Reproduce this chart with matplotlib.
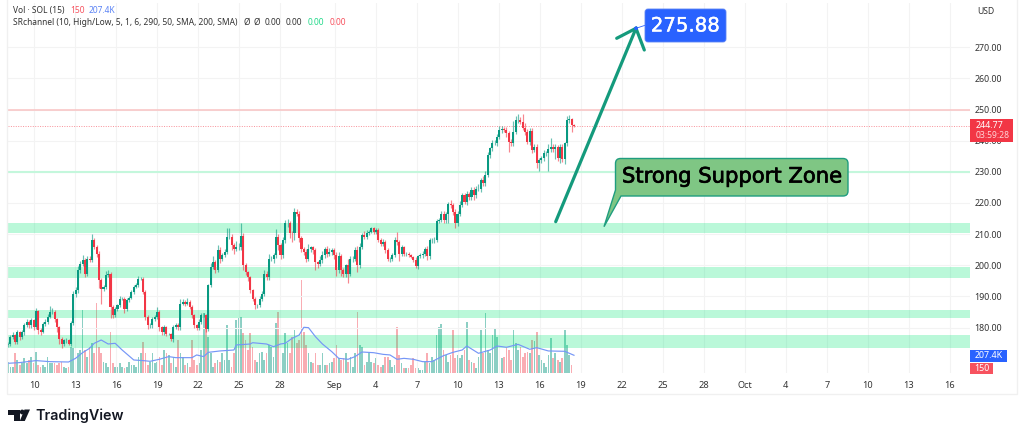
import numpy as np
import matplotlib
matplotlib.use("Agg")
import matplotlib.pyplot as plt
from matplotlib.patches import PathPatch, Rectangle, FancyBboxPatch, Polygon, Circle
from matplotlib.path import Path
import matplotlib.patheffects as pe

plt.rcParams['font.family'] = ['Noto Sans', 'DejaVu Sans']

closes = [
174.8,176.9,177.7,175.3,178.5,176.9,178.5,180.7,181.8,180.7,182.3,180.1,185.3,179.1,178.5,181.2,181.8,183.4,185.0,185.0,
182.8,180.1,176.4,174.8,175.9,176.1,174.8,181.4,190.9,191.9,198.4,200.3,201.6,197.3,202.1,201.6,208.2,205.9,203.7,195.2,
192.5,193.0,196.8,197.3,186.6,183.9,186.0,187.1,189.3,189.3,186.0,188.7,189.6,191.4,193.0,193.5,195.7,195.7,191.4,183.4,
180.7,180.7,182.8,183.4,185.0,180.1,178.5,180.1,178.0,178.0,176.2,180.1,180.7,180.1,187.7,188.2,187.7,188.2,186.6,183.9,
180.7,179.9,181.8,183.9,183.9,179.6,193.5,199.4,201.1,198.4,205.0,202.1,203.2,204.3,209.1,209.1,206.4,205.3,205.7,205.7,
209.4,200.0,197.8,196.2,191.9,189.3,187.1,187.1,189.3,190.9,197.3,196.2,202.1,202.1,203.2,209.1,206.4,203.2,208.0,213.4,
213.4,210.4,210.2,217.1,216.6,208.6,
205.3,204.3,202.1,205.3,205.7,204.8,201.1,200.3,201.8,203.2,205.3,203.7,204.3,204.8,203.2,198.4,202.9,198.4,197.3,200.0,
197.3,201.9,202.1,204.8,200.0,205.9,209.6,209.1,210.4,210.7,211.8,210.7,211.2,208.2,206.9,207.5,204.8,202.1,202.1,203.2,
208.0,207.5,203.7,205.7,203.7,203.7,203.2,202.7,201.6,199.7,202.9,203.2,203.7,205.3,202.9,208.0,208.0,208.0,214.2,214.5,
216.4,214.5,216.4,219.6,219.3,217.1,213.4,216.6,219.3,222.5,220.3,223.0,
221.8,224.1,222.5,224.6,224.6,227.3,226.3,228.9,235.4,237.5,239.3,239.3,241.3,243.4,243.6,243.4,242.3,239.7,239.1,242.9,
246.6,246.6,246.1,244.0,242.9,239.7,243.2,237.0,238.0,232.9,233.8,234.3,235.9,235.9,237.2,238.0,237.2,238.0,234.3,238.0,
234.1,239.1,246.6,246.8,245.0,244.77]

upper_wicks = [
.4,.6,.8,.3,.8,.5,.7,.9,1.0,.6,
.8,.5,1.1,.4,.6,.7,.9,.8,2.0,1.2,
.5,.4,.4,.6,.5,.6,.3,.8,.7,1.0,
1.2,1.0,1.6,.8,.9,.8,1.9,.7,.6,.8,
.7,.8,1.2,1.1,.5,.6,.5,.6,.7,.6,
.5,.7,.6,.8,.7,.9,1.0,.6,.4,.5,
.5,.6,.7,.6,1.6,.5,.4,.7,.5,.4,
.4,.6,.7,.8,1.3,.8,.5,1.4,.6,.5,
.4,.5,.8,.9,.7,.5,.6,1.2,1.8,.7,
1.4,.8,.7,.9,2.7,2.7,.9,.8,2.0,1.5,
4.3,.8,.6,.5,.4,.6,.4,.3,.7,.8,
1.3,.7,1.5,.9,.8,2.5,.9,.6,1.2,1.0,
1.6,.8,.7,1.3,.8,.9,.7,.4,.8,1.4,
.6,.5,.7,.4,1.1,1.3,.7,.8,1.2,.6,
.7,.9,1.5,.8,.7,.5,2.0,1.0,.8,.9,
1.4,1.1,.9,1.5,.8,.7,.6,.6,.8,.7,
.5,1.0,.7,.6,.5,.8,1.0,2.7,.6,.9,
.5,.5,.4,.4,.3,.9,.5,.7,1.0,.6,
1.0,.9,.8,1.2,.8,.7,.9,1.0,.8,.6,
1.5,.7,.8,.9,1.2,.8,.6,.8,.6,1.0,
.9,.7,1.6,.7,1.2,1.4,.8,.6,.8,1.0,
.7,1.3,1.2,.7,.9,.8,.9,3.4,1.2,1.8,
.9,2.5,1.8,1.0,.8,1.0,.9,.8,.6,.7,
1.0,.9,1.7,3.0,.8,1.0,.7,.9,.8,.6,
1.4,1.5,.5,.3]

lower_wicks = [
.7,.6,.5,.5,.5,.8,.5,.9,.6,.7,
.8,1.0,.6,1.1,.8,.4,.8,.8,.5,.6,
.9,1.4,1.6,1.3,.6,.8,.5,.8,.5,1.2,
.9,.8,.7,1.0,.7,.6,.5,.8,.9,2.6,
5.0,.8,.7,.6,3.7,.7,.5,.7,.6,.5,
1.2,.6,.5,.6,.5,.4,.6,.5,.7,.9,
1.1,.7,.8,.6,.6,1.2,.8,.9,.7,.5,
.4,.7,.5,.8,.9,.6,.7,.6,.5,.7,
1.0,.7,.8,.6,.5,1.0,.8,.5,.5,.8,
.6,1.3,.7,.5,.8,.7,1.5,1.6,.8,.9,
.8,1.5,.9,1.2,.7,.9,1.2,.7,.6,.8,
.7,1.0,.8,.7,1.5,1.0,1.5,1.2,.9,.8,
1.0,1.5,2.7,2.0,.8,1.0,.9,1.1,1.0,.8,
.9,1.2,2.5,1.3,.7,1.0,.8,.9,.6,1.0,
1.3,2.0,1.0,1.9,1.0,1.2,3.0,.8,.9,.7,
2.2,1.0,.7,.8,.6,.7,.5,.7,.8,.9,
.8,.7,1.0,.9,1.2,.8,.7,.9,2.2,.7,
.8,.6,.5,.5,.5,.7,.8,.6,.9,.7,
1.3,.9,.8,.8,.6,.5,.7,.8,.9,3.0,
.8,.9,1.5,.7,.8,.6,.7,.8,1.0,.9,
1.4,.8,.7,1.0,.9,.7,.6,.9,.8,.7,
1.0,.9,.8,.7,1.0,3.4,.9,.8,.7,.8,
.9,.7,1.0,.8,1.0,1.1,.7,1.6,2.6,1.0,
.9,.8,5.5,.7,1.0,3.0,.8,1.4,.9,1.6,
.7,.8,2.1,.4]

volumes_k = [
134,77,77,230,153,96,115,172,115,153,192,115,249,96,77,96,77,192,115,115,
115,96,115,134,77,57,77,306,287,306,230,268,728,268,192,306,345,230,804,306,
230,134,115,77,479,115,77,77,115,77,57,77,134,96,96,77,192,230,364,230,
96,134,230,115,134,192,96,268,230,211,115,192,77,383,230,192,96,115,77,383,
153,96,115,268,689,575,421,230,77,115,153,134,230,153,555,153,77,230,613,632,
651,460,383,268,460,306,153,134,230,249,153,230,326,306,192,575,709,230,230,460,
345,230,421,498,345,383,
1072,479,326,230,134,115,230,96,96,230,96,96,115,134,172,326,172,153,172,230,
134,192,77,230,709,326,306,96,134,230,134,115,172,96,77,96,192,192,153,77,
96,536,211,115,57,57,57,96,172,57,57,38,38,134,230,115,192,153,440,536,
567,268,211,134,211,498,172,211,172,211,268,594,153,134,115,57,192,498,230,689,
268,230,440,517,421,268,172,192,287,268,153,498,345,268,306,192,230,249,230,383,
375,479,211,153,115,77,211,402,172,230,153,134,172,498,326,211,96,0.15]

ma_index = [0,5,12,18,26,29,32,35,37,40,43,46,49,54,58,61,65,69,72,79,81,84,86,91,97,98,104,105,111,114,117,119,122,125,
            127,129,132,135,139,142,146,149,152,157,161,164,167,170,174,178,182,187,191,195,197,202,207,210,214,219,224,227,232,239,243]
ma_values = [115,123,146,134,130,172,237,287,345,383,337,345,268,153,146,138,161,192,180,180,211,192,241,257,268,326,337,352,337,306,337,345,402,440,
             529,525,421,337,249,172,161,192,245,237,218,211,161,172,161,134,134,203,241,268,314,230,268,314,299,333,276,295,257,253,207.4]

price_ticks = [180,190,200,210,220,230,240,250,260,270]
day_ticks = [10,13,16,19,22,25,28,32,35,38,41,44,47,50,53,56,59,62,65,68,71,74,77]
day_labels = ['10','13','16','19','22','25','28','Sep','4','7','10','13','16','19','22','25','28','Oct','4','7','10','13','16']
support_zones = [(210.3,213.7),(196.0,199.3),(183.0,185.5),(173.4,177.5)]
thin_support = 230.0
resistance = 250.0
last_price = 244.77
first_day, last_day = 8.1, 49.5
x_range = (8.098, 78.47)
price_range = (165.3, 284.2)
UP, DOWN = '#089981', '#f23645'

n = min(len(closes), len(upper_wicks), len(lower_wicks), len(volumes_k))
c = np.array(closes[:n])
o = np.r_[c[0] - 0.5, c[:-1]]
hi = np.maximum(o, c) + np.array(upper_wicks[:n])
lo = np.minimum(o, c) - np.array(lower_wicks[:n])
v = np.array(volumes_k[:n])
x = np.linspace(first_day, last_day, n)
up = c >= o
W, H = 1024, 437
fig = plt.figure(figsize=(W/100, H/100), dpi=100, facecolor='white')
pos = [8/W, 1-373.3/H, (970-8)/W, (373.3-3)/H]

ax_vol = fig.add_axes(pos, zorder=1)
ax_vol.set_ylim(0, 370.3*11.5)
ax_vol.set_xlim(*x_range)
ax_vol.axis('off')
ax_vol.bar(x[up], v[up], width=0.125, color='#8ccfc4', linewidth=0)
ax_vol.bar(x[~up], v[~up], width=0.125, color='#f9adb3', linewidth=0)

ax = fig.add_axes(pos, zorder=2, sharex=ax_vol)
ax.patch.set_alpha(0)
ax.set_ylim(*price_range)
for s in ax.spines.values():
    s.set_visible(False)
ax.yaxis.tick_right()
ax.set_yticks(price_ticks)
ax.set_yticklabels([f'{p:.2f}' for p in price_ticks], fontsize=6.4, color='#333333')
ax.set_xticks(day_ticks)
ax.set_xticklabels(day_labels, fontsize=6.6, color='#333333')
ax.tick_params(axis='y', length=0, pad=3.4)
ax.tick_params(axis='x', length=0, pad=5.5)
for t in ax.get_xticklabels():
    if t.get_text() in ('Sep', 'Oct'):
        t.set_fontweight('bold')
ax.set_axisbelow(True)
ax.grid(True, color='#f3f3f3', lw=0.8)

for a, b in support_zones:
    ax.axhspan(a, b, color='#00e676', alpha=0.27, lw=0, zorder=1)
ax.axhline(thin_support, color='#c4f7dc', lw=1.5, zorder=1)
ax.axhline(resistance, color='#f9c3c3', lw=1.1, zorder=1)
ax.axhline(last_price, color='#f23645', lw=0.7, ls=(0, (1, 1.5)), alpha=0.55, zorder=1.5)

ax.vlines(x[up], lo[up], hi[up], color=UP, lw=0.85, alpha=0.6, zorder=2)
ax.vlines(x[~up], lo[~up], hi[~up], color=DOWN, lw=0.85, alpha=0.6, zorder=2)
ax.bar(x[up], (c-o)[up], bottom=o[up], width=0.15, color=UP, lw=0, zorder=3)
ax.bar(x[~up], (o-c)[~up], bottom=c[~up], width=0.15, color=DOWN, lw=0, zorder=3)

ax_ma = fig.add_axes(pos, zorder=3, sharex=ax_vol, sharey=ax_vol)
ax_ma.axis('off')
ax_ma.patch.set_alpha(0)
ax_ma.plot(x[np.array(ma_index)], ma_values, color='#7596f7', lw=0.85)

# overlay in pixel units for the drawn annotations and labels
ov = fig.add_axes([0, 0, 1, 1], zorder=5)
ov.set_xlim(0, W); ov.set_ylim(H, 0); ov.axis('off'); ov.patch.set_alpha(0)
ov.add_patch(Rectangle((7, -2), 1010, 396, fill=False, ec='#f0f0f0', lw=1))

# arrow
ARROW = '#149a7c'
ov.plot([555.7, 636], [221.7, 28.3], color=ARROW, lw=2.3, solid_capstyle='round')
ov.plot([616.7, 636, 644.3], [38.3, 28.3, 50], color=ARROW, lw=2.3, solid_capstyle='round', solid_joinstyle='miter')
ov.plot([636, 646], [28.3, 25], color='#2962ff', lw=0.6)
ov.add_patch(Circle((636, 28.3), 1.2, color='#2962ff', zorder=6))
ov.add_patch(FancyBboxPatch((647, 11), 77, 29, boxstyle='round,pad=2,rounding_size=3', fc='#2962ff', ec='#5b83f5', lw=0.6, zorder=6))
ov.text(685.5, 26, '275.88', color='white', fontsize=14.2, family='DejaVu Sans', ha='center', va='center', zorder=7,
        path_effects=[pe.withStroke(linewidth=0.3, foreground='white')])

# callout
l, r, t, b, rad = 615.5, 848, 158.5, 196, 5
verts = [(l+rad, t), (r-rad, t), (r, t), (r, t+rad), (r, b-rad), (r, b), (r-rad, b),
         (621, b), (604, 226.7), (l, 190), (l, t+rad), (l, t), (l+rad, t), (l+rad, t)]
codes = [Path.MOVETO, Path.LINETO, Path.CURVE3, Path.CURVE3, Path.LINETO, Path.CURVE3, Path.CURVE3,
         Path.LINETO, Path.LINETO, Path.LINETO, Path.LINETO, Path.CURVE3, Path.CURVE3, Path.CLOSEPOLY]
ov.add_patch(PathPatch(Path(verts, codes), fc='#7fc684', ec='#1f9d7f', lw=1))
ov.text(732, 176.5, 'Strong Support Zone', color='black', fontsize=15.2, family='DejaVu Sans', ha='center', va='center',
        path_effects=[pe.withStroke(linewidth=0.5, foreground='black')])

# header
def hdr(px, py, s, col='#333333'):
    ov.text(px, py, s, color=col, fontsize=6.05, ha='left', va='center')
hdr(13, 10.5, 'Vol · SOL (15)')
hdr(70, 10.5, '150', '#f7525f')
hdr(89, 10.5, '207.4K', '#5b83f5')
hdr(13, 22.5, 'SRchannel (10, High/Low, 5, 1, 6, 290, 50, SMA, 200, SMA)')
hdr(244, 22.5, 'Ø'); hdr(254, 22.5, 'Ø')
hdr(265, 22.5, '0.00'); hdr(286, 22.5, '0.00')
hdr(308, 22.5, '0.00', '#22d98a'); hdr(330, 22.5, '0.00', '#f7525f')
ov.text(986, 12, 'USD', color='#333333', fontsize=6.2, ha='center', va='center')

# price scale labels
ov.add_patch(Rectangle((970, 119), 43, 23, fc='#f23645', ec='none', zorder=6))
ov.text(976, 125.5, '244.77', color='white', fontsize=6.4, ha='left', va='center', zorder=7)
ov.text(976, 135.5, '03:59:28', color='#ffd5d8', fontsize=6.2, ha='left', va='center', zorder=7)
ov.add_patch(Rectangle((970, 349.5), 37, 12.5, fc='#2962ff', ec='none', zorder=6))
ov.text(988.5, 355.7, '207.4K', color='white', fontsize=6.4, ha='center', va='center', zorder=7)
ov.add_patch(Rectangle((970, 363), 23, 11, fc='#f7525f', ec='none', zorder=6))
ov.text(981.5, 368.5, '150', color='white', fontsize=6.4, ha='center', va='center', zorder=7)

# TradingView mark
LOGO = '#131722'
ov.add_patch(Polygon([(8, 409.5), (19.5, 409.5), (19.5, 421), (13.5, 421), (13.5, 414.5), (8, 414.5)], fc=LOGO, ec='none'))
ov.add_patch(Circle((22.2, 412), 2.4, fc=LOGO, ec='none'))
ov.add_patch(Polygon([(24.5, 409.5), (30, 409.5), (24.8, 421), (19.8, 421)], fc=LOGO, ec='none'))
ov.text(35, 415.5, 'TradingView', color=LOGO, fontsize=10.3, fontweight='semibold', family='Inter', ha='left', va='center')

fig.savefig('out.png', dpi=100)
